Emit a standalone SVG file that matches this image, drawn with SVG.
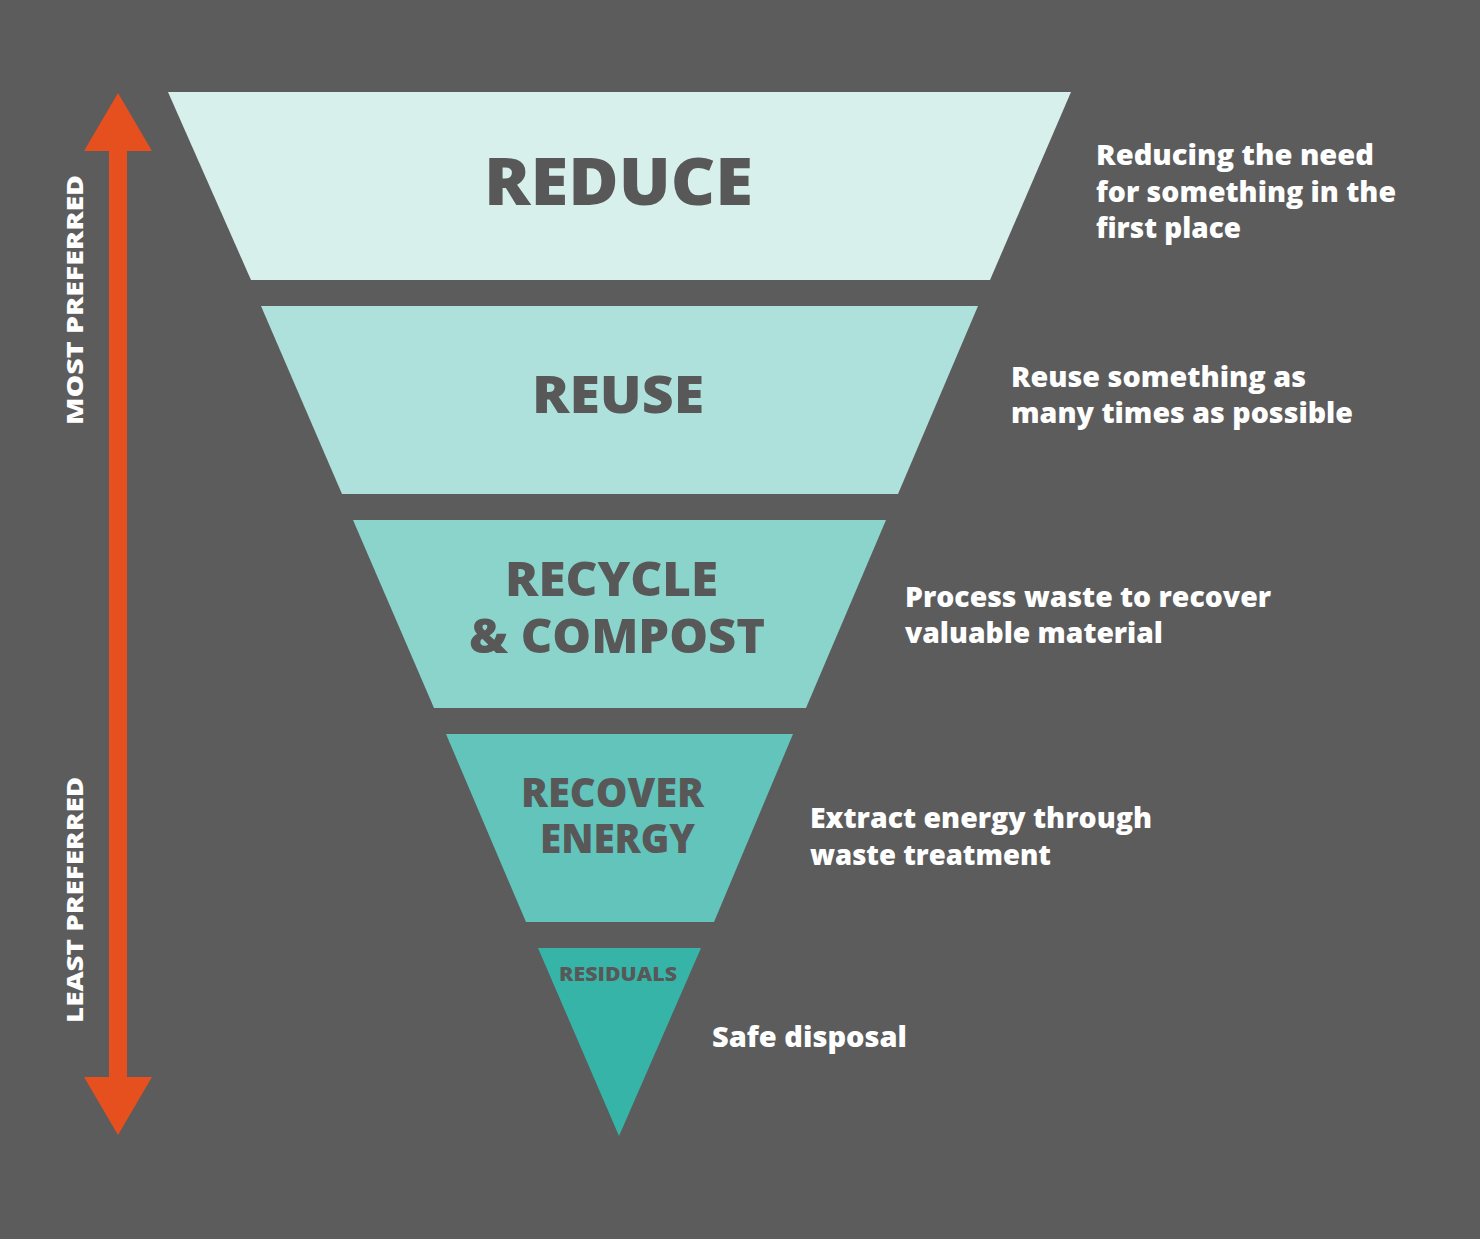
<svg xmlns="http://www.w3.org/2000/svg" width="1480" height="1239" viewBox="0 0 1480 1239">
<style>
text{font-variant-ligatures:none}
.lvl{font-family:"Open Sans","Liberation Sans",sans-serif;font-weight:800;fill:#585858}
.desc{font-family:"Open Sans","Liberation Sans",sans-serif;font-weight:800;fill:#ffffff;font-size:28px}
.side{font-family:"Open Sans","Liberation Sans",sans-serif;font-weight:800;fill:#ffffff;font-size:23px}
</style>
<rect x="0" y="0" width="1480" height="1239" fill="#5c5c5c"/>
<g id="connectors">
<polygon id="scale-arrow" fill="#e5501e" points="118,93 152,151 127,151 127,1077 152,1077 118,1135 84,1077 109,1077 109,151 84,151"/>
</g>
<g id="label-most">
<text class="side" transform="translate(83,300) rotate(-90)" text-anchor="middle" textLength="250" lengthAdjust="spacingAndGlyphs">MOST PREFERRED</text>
</g>
<g id="label-least">
<text class="side" transform="translate(83,900) rotate(-90)" text-anchor="middle" textLength="246" lengthAdjust="spacingAndGlyphs">LEAST PREFERRED</text>
</g>
<g id="reduce">
<polygon fill="#d7f0eb" points="168,92 1071,92 990,280 251,280"/>
<text class="lvl" x="484" y="205" font-size="66" textLength="269" lengthAdjust="spacingAndGlyphs">REDUCE</text>
<text class="desc" x="1096" y="165" textLength="278" lengthAdjust="spacingAndGlyphs">Reducing the need</text>
<text class="desc" x="1096" y="202" textLength="300" lengthAdjust="spacingAndGlyphs">for something in the</text>
<text class="desc" x="1096" y="238" textLength="145" lengthAdjust="spacingAndGlyphs">first place</text>
</g>
<g id="reuse">
<polygon fill="#aee0dc" points="261,306 978,306 898,494 342,494"/>
<text class="lvl" x="532" y="413" font-size="52" textLength="172" lengthAdjust="spacingAndGlyphs">REUSE</text>
<text class="desc" x="1011" y="387" textLength="295" lengthAdjust="spacingAndGlyphs">Reuse something as</text>
<text class="desc" x="1011" y="423" textLength="342" lengthAdjust="spacingAndGlyphs">many times as possible</text>
</g>
<g id="recycle">
<polygon fill="#8ad4cc" points="353,520 886,520 806,708 434,708"/>
<text class="lvl" x="505" y="596" font-size="48" textLength="213" lengthAdjust="spacingAndGlyphs">RECYCLE</text>
<text class="lvl" x="469" y="653" font-size="48" textLength="296" lengthAdjust="spacingAndGlyphs">&amp; COMPOST</text>
<text class="desc" x="905" y="607" textLength="366" lengthAdjust="spacingAndGlyphs">Process waste to recover</text>
<text class="desc" x="905" y="643" textLength="258" lengthAdjust="spacingAndGlyphs">valuable material</text>
</g>
<g id="recover">
<polygon fill="#62c4bb" points="446,734 793,734 714,922 526,922"/>
<text class="lvl" x="521" y="807" font-size="40" textLength="183" lengthAdjust="spacingAndGlyphs">RECOVER</text>
<text class="lvl" x="540" y="853" font-size="40" textLength="155" lengthAdjust="spacingAndGlyphs">ENERGY</text>
<text class="desc" x="810" y="828" textLength="342" lengthAdjust="spacingAndGlyphs">Extract energy through</text>
<text class="desc" x="810" y="865" textLength="241" lengthAdjust="spacingAndGlyphs">waste treatment</text>
</g>
<g id="residuals">
<polygon fill="#37b4a8" points="538,948 701,948 619,1136"/>
<text class="lvl" x="559" y="981" font-size="20" textLength="118" lengthAdjust="spacingAndGlyphs">RESIDUALS</text>
<text class="desc" x="712" y="1047" textLength="195" lengthAdjust="spacingAndGlyphs">Safe disposal</text>
</g>
</svg>
